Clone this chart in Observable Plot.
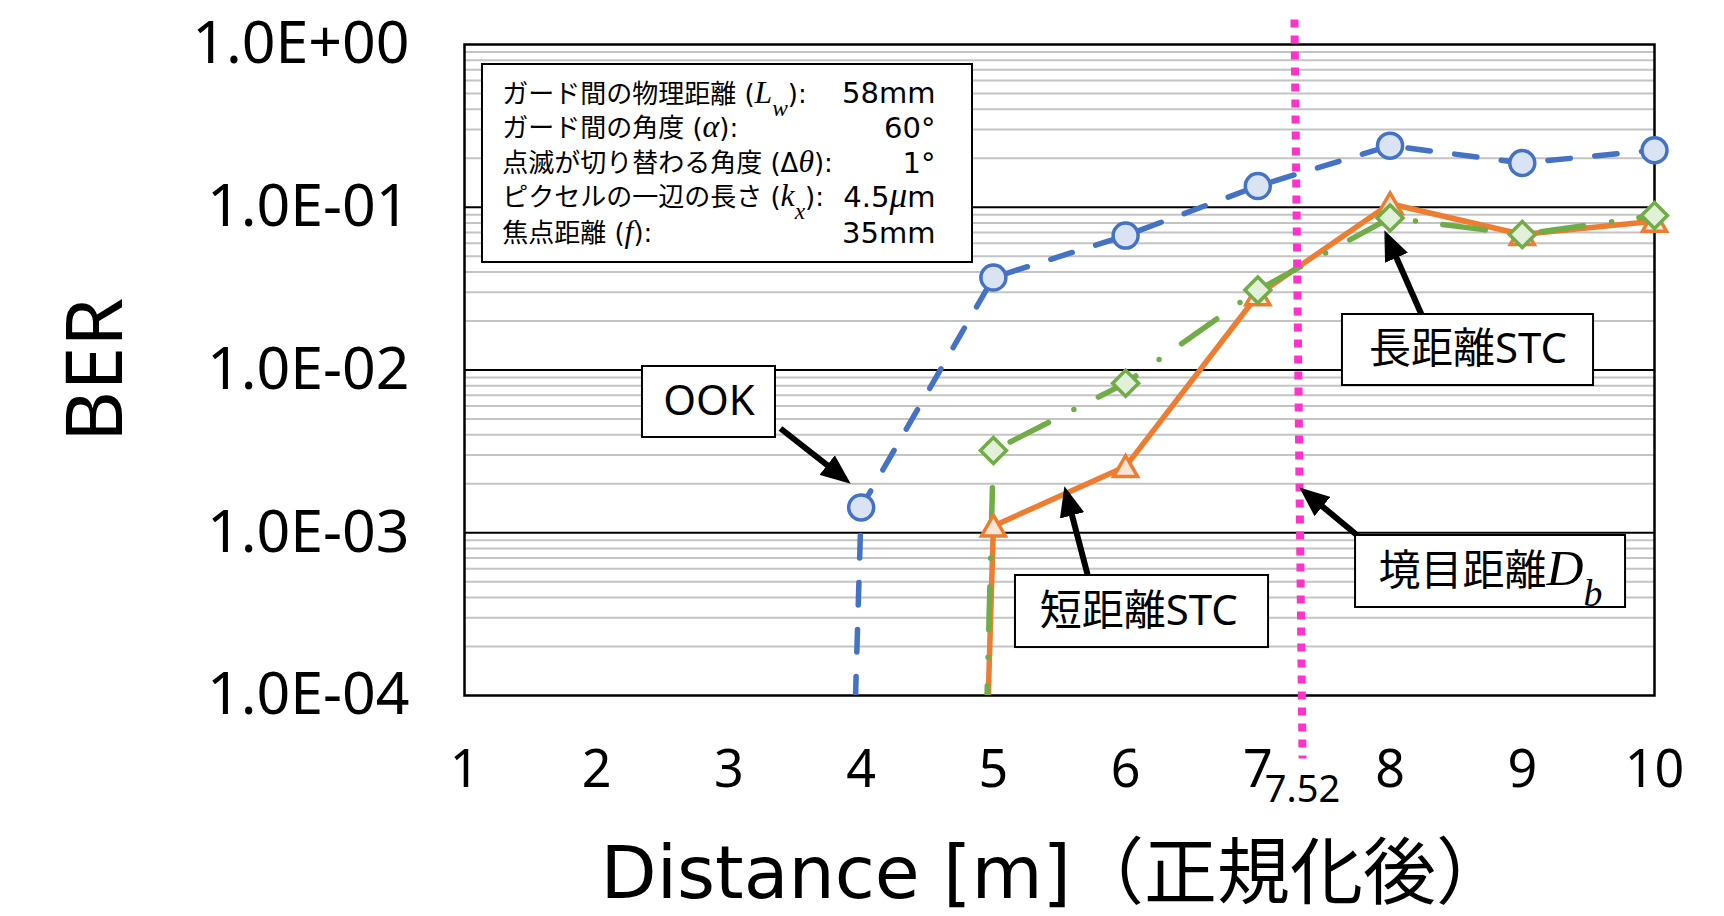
<!DOCTYPE html>
<html>
<head>
<meta charset="utf-8">
<script src="https://cdn.jsdelivr.net/npm/d3@7"></script>
<script src="https://cdn.jsdelivr.net/npm/@observablehq/plot@0.6"></script>
<style>
  html, body { margin: 0; padding: 0; background: #fff; }
</style>
</head>
<body>
<div id="chart"></div>
<script>
// ---------- data ----------
const xTicks = [1, 2, 3, 4, 5, 6, 7, 8, 9, 10];
const yTicks = [1, 0.1, 0.01, 0.001, 0.0001];
const yTickLabels = ["1.0E+00", "1.0E-01", "1.0E-02", "1.0E-03", "1.0E-04"];

// OOK (first point is far below the axis floor)
const xOOK = [3, 4, 5, 6, 7, 8, 9, 10];
const berOOK = [1e-30, 1.43e-3, 3.7e-2, 6.7e-2, 0.135, 0.239, 0.187, 0.224];
// 短距離STC
const xShort = [4, 5, 6, 7, 8, 9, 10];
const berShort = [1e-30, 1.1e-3, 2.55e-3, 2.9e-2, 0.105, 0.068, 0.082];
// 長距離STC
const xLong = [4, 5, 6, 7, 8, 9, 10];
const berLong = [1e-34, 3.2e-3, 8.3e-3, 3.1e-2, 0.086, 0.068, 0.089];

const boundaryLabel = "7.52";

const paramNames = [
  "ガード間の物理距離 (*L*_w_):",
  "ガード間の角度 (*α*):",
  "点滅が切り替わる角度 (Δ*θ*):",
  "ピクセルの一辺の長さ (*k*_x_):",
  "焦点距離 (*f*):"
];
const paramValues = ["58mm", "60°", "1°", "4.5*μ*m", "35mm"];

const calloutTexts = ["OOK", "短距離STC", "長距離STC", "境目距離*D*_b_"];

const xTitle = "Distance [m]（正規化後）";
const yTitle = "BER";

// ---------- annotation placement (data units) ----------
const paramRowY = [0.495, 0.3047, 0.1857, 0.1148, 0.0690];
const paramBox = {x1: 1.136, x2: 4.842, y1: 0.7535, y2: 0.04576};
const calloutBoxes = [
  {x1: 2.346, x2: 3.352, y1: 0.01051, y2: 0.003848, x: 2.849, y: 0.00636},
  {x1: 5.167, x2: 7.081, y1: 5.463e-4, y2: 1.971e-4, x: 6.10, y: 3.281e-4},
  {x1: 7.640, x2: 9.539, y1: 0.02193, y2: 8.03e-3, x: 8.590, y: 0.01327},
  {x1: 7.739, x2: 9.781, y1: 9.62e-4, y2: 3.473e-4, x: 8.760, y: 5.78e-4}
];
const arrows = [
  {x1: 3.390, y1: 4.370e-3, x2: 3.878, y2: 2.133e-3},
  {x1: 5.712, y1: 5.54e-4, x2: 5.551, y2: 1.748e-3},
  {x1: 8.261, y1: 0.01986, x2: 7.979, y2: 0.06574},
  {x1: 7.845, y1: 8.35e-4, x2: 7.356, y2: 1.780e-3}
];
const boundaryLine = [{x1: 7.277, y1: 1.424, x2: 7.338, y2: 4.10e-5}];

// ---------- derived tables ----------
const toRows = (xs, ys) => xs.map((x, i) => ({x, ber: ys[i]}));
const rowsOOK = toRows(xOOK, berOOK);
const rowsShort = toRows(xShort, berShort);
const rowsLong = toRows(xLong, berLong);
const visible = d => d.ber >= 1e-4;

const majorGrid = [0.1, 0.01, 0.001];
const minorGrid = d3.range(-4, 0).flatMap(e => d3.range(2, 10).map(m => m * Math.pow(10, e)));

const params = paramNames.map((name, i) => ({name, value: paramValues[i], y: paramRowY[i]}));
const callouts = calloutBoxes.map((b, i) => ({...b, text: calloutTexts[i]}));

const fontSans = "'Noto Sans', 'Noto Sans CJK JP', sans-serif";
const fontWide = "'DejaVu Sans', 'Noto Sans CJK JP', sans-serif";
const fontMath = "'Liberation Serif', 'DejaVu Serif', serif";

function arrowHead(color, context) {
  const doc = (context && context.document) || document;
  const ns = "http://www.w3.org/2000/svg";
  const m = doc.createElementNS(ns, "marker");
  m.setAttribute("viewBox", "0 0 10 10");
  m.setAttribute("preserveAspectRatio", "none");
  m.setAttribute("markerUnits", "userSpaceOnUse");
  m.setAttribute("markerWidth", "30");
  m.setAttribute("markerHeight", "25");
  m.setAttribute("refX", "7.6");
  m.setAttribute("refY", "5");
  m.setAttribute("orient", "auto");
  m.setAttribute("stroke", "none");
  const p = doc.createElementNS(ns, "path");
  p.setAttribute("d", "M0,0L10,5L0,10Z");
  p.setAttribute("fill", color);
  p.setAttribute("stroke", "none");
  m.appendChild(p);
  return m;
}

const chart = Plot.plot({
  width: 1724,
  height: 916,
  marginLeft: 464,
  marginRight: 70,
  marginTop: 44,
  marginBottom: 221,
  style: {fontFamily: fontSans, background: "white", overflow: "visible"},
  x: {domain: [1, 10]},
  y: {type: "log", domain: [1e-4, 1]},
  marks: [
    Plot.ruleY(minorGrid, {stroke: "#c4c4c4", strokeWidth: 2}),
    Plot.ruleY(majorGrid, {stroke: "#000", strokeWidth: 2}),
    Plot.frame({stroke: "#000", strokeWidth: 2.5}),
    Plot.axisX({ticks: xTicks, tickSize: 0, tickPadding: 55, fontSize: 52, label: null, tickFormat: d => String(d)}),
    Plot.axisY({ticks: yTicks, tickSize: 0, tickPadding: 55, fontSize: 59, label: null,
      tickFormat: d => yTickLabels[yTicks.indexOf(d)]}),
    // series lines
    Plot.line(rowsOOK, {x: "x", y: "ber", stroke: "#4472c4", strokeWidth: 5.5,
      strokeDasharray: "22.5,24.5", strokeLinecap: "round", clip: true}),
    Plot.line(rowsShort, {x: "x", y: "ber", stroke: "#ed7d31", strokeWidth: 5.5, clip: true}),
    Plot.line(rowsLong, {x: "x", y: "ber", stroke: "#70ad47", strokeWidth: 5.5,
      strokeDasharray: "43,28.5,0,27.5", strokeLinecap: "round", clip: true}),
    // markers
    Plot.dot(rowsOOK, {filter: visible, x: "x", y: "ber", r: 12.5, fill: "#dae3f3", stroke: "#4472c4", strokeWidth: 3.5}),
    Plot.dot(rowsShort, {filter: visible, x: "x", y: "ber", symbol: "triangle", r: 8.9, dy: 3,
      fill: "#fbe5d6", stroke: "#ed7d31", strokeWidth: 3.5}),
    Plot.dot(rowsLong, {filter: visible, x: "x", y: "ber", symbol: "diamond2", r: 11.7,
      fill: "#e2f0d9", stroke: "#70ad47", strokeWidth: 3.5}),
    // boundary distance
    Plot.link(boundaryLine, {x1: "x1", y1: "y1", x2: "x2", y2: "y2", stroke: "#ff33cc",
      strokeWidth: 8, strokeDasharray: "8,8"}),
    Plot.text([boundaryLabel], {x: () => 7.338, frameAnchor: "bottom", dy: 106, fontSize: 38}),
    // parameter box
    Plot.rect([paramBox], {x1: "x1", x2: "x2", y1: "y1", y2: "y2", fill: "white", stroke: "#000", strokeWidth: 2}),
    Plot.text(params, {x: () => 1.285, y: "y", text: "name", textAnchor: "start", fontSize: 26, fontFamily: fontWide}),
    Plot.text(params, {x: () => 4.562, y: "y", text: "value", textAnchor: "end", fontSize: 29, fontFamily: fontWide}),
    // callouts
    Plot.link(arrows, {x1: "x1", y1: "y1", x2: "x2", y2: "y2", stroke: "#000", strokeWidth: 6, markerEnd: arrowHead}),
    Plot.rect(callouts, {x1: "x1", x2: "x2", y1: "y1", y2: "y2", fill: "white", stroke: "#000", strokeWidth: 2}),
    Plot.text(callouts, {x: "x", y: "y", text: "text", fontSize: 42}),
    // axis titles
    Plot.text([yTitle], {frameAnchor: "left", dx: -368, rotate: -90, textAnchor: "middle", fontSize: 79}),
    Plot.text([xTitle], {frameAnchor: "bottom-left", dx: 136, dy: 202, textAnchor: "start", fontSize: 73, fontFamily: fontWide})
  ]
});

// rich text: *x* = math italic, _x_ = italic subscript
d3.select(chart).selectAll("text").each(function () {
  if (this.querySelector("tspan")) return;
  const s = this.textContent;
  if (!/[*_]/.test(s)) return;
  const parts = s.split(/(\*[^*]+\*|_[^_]+_)/).filter(p => p.length);
  this.textContent = "";
  const sel = d3.select(this);
  for (const p of parts) {
    const t = sel.append("tspan");
    if (p.startsWith("*")) {
      t.attr("font-family", fontMath).attr("font-style", "italic").attr("font-size", "1.22em").text(p.slice(1, -1));
    } else if (p.startsWith("_")) {
      t.attr("font-family", fontMath).attr("font-style", "italic").attr("font-size", "0.9em")
        .attr("baseline-shift", "sub").text(p.slice(1, -1));
    } else {
      t.text(p);
    }
  }
});

document.getElementById("chart").appendChild(chart);
</script>
</body>
</html>
